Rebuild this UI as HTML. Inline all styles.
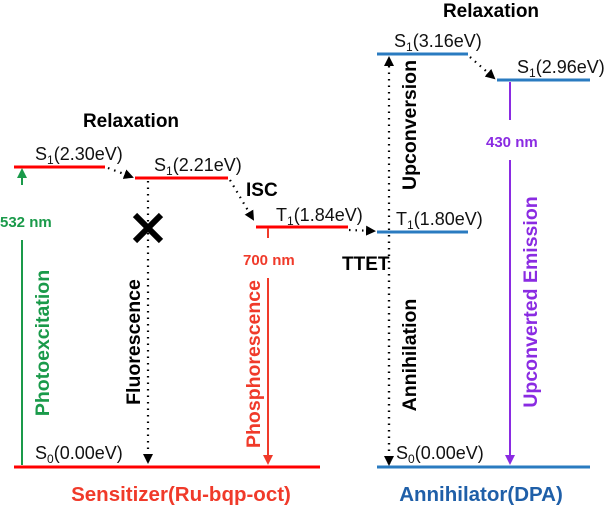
<!DOCTYPE html>
<html><head><style>
html,body{margin:0;padding:0;background:#fff;}
svg{display:block;font-family:"Liberation Sans",Arial,sans-serif;}
.b{font-weight:bold;}
</style></head><body>
<svg width="608" height="508" viewBox="0 0 608 508" xmlns="http://www.w3.org/2000/svg">
<defs>
<marker id="ak" markerWidth="10" markerHeight="10" refX="8" refY="5" orient="auto" markerUnits="userSpaceOnUse"><path d="M0,0 L10,5 L0,10 z" fill="#000"/></marker>
<marker id="ag" markerWidth="10" markerHeight="10" refX="8" refY="5" orient="auto" markerUnits="userSpaceOnUse"><path d="M0,0 L10,5 L0,10 z" fill="#1a9a4a"/></marker>
<marker id="ar" markerWidth="10" markerHeight="10" refX="8" refY="5" orient="auto" markerUnits="userSpaceOnUse"><path d="M0,0 L10,5 L0,10 z" fill="#f03a2a"/></marker>
<marker id="ap" markerWidth="10" markerHeight="10" refX="8" refY="5" orient="auto" markerUnits="userSpaceOnUse"><path d="M0,0 L10,5 L0,10 z" fill="#8a2be2"/></marker>
</defs>
<g stroke-width="3">
<line x1="14" y1="167" x2="105" y2="167" stroke="#f00"/>
<line x1="135" y1="178" x2="228" y2="178" stroke="#f00"/>
<line x1="256" y1="227" x2="348" y2="227" stroke="#f00"/>
<line x1="14" y1="467" x2="320" y2="467" stroke="#f00"/>
<line x1="377" y1="54" x2="468" y2="54" stroke="#2a7bc0"/>
<line x1="497" y1="80" x2="590" y2="80" stroke="#2a7bc0"/>
<line x1="377" y1="232" x2="468" y2="232" stroke="#2a7bc0"/>
<line x1="377" y1="467" x2="590" y2="467" stroke="#2a7bc0"/>
</g>
<line x1="22" y1="465" x2="22" y2="240" stroke="#1a9a4a" stroke-width="2"/>
<line x1="22" y1="185" x2="22" y2="170" stroke="#1a9a4a" stroke-width="2" marker-end="url(#ag)"/>
<text x="0" y="227" fill="#1a9a4a" font-size="15" class="b">532 nm</text>
<text transform="translate(49,343) rotate(-90)" text-anchor="middle" fill="#1a9a4a" font-size="19.5" class="b">Photoexcitation</text>
<g stroke="#000" stroke-width="2.2" stroke-dasharray="1.5,5" fill="none">
<line x1="108" y1="168" x2="132" y2="177" marker-end="url(#ak)"/>
<line x1="148" y1="181" x2="148" y2="462" marker-end="url(#ak)"/>
<line x1="230" y1="180" x2="253" y2="219" marker-end="url(#ak)"/>
<line x1="349" y1="230" x2="374" y2="231" marker-end="url(#ak)"/>
<line x1="389" y1="464" x2="389" y2="58" marker-end="url(#ak)"/>
<line x1="389" y1="235" x2="389" y2="464" marker-end="url(#ak)"/>
<line x1="470" y1="57" x2="494" y2="78" marker-end="url(#ak)"/>
</g>
<g stroke="#000" stroke-width="6"><line x1="135" y1="215" x2="161" y2="241"/><line x1="161" y1="215" x2="135" y2="241"/></g>
<text transform="translate(140,342) rotate(-90)" text-anchor="middle" fill="#000" font-size="19.5" class="b">Fluorescence</text>
<line x1="268" y1="228" x2="268" y2="238" stroke="#f03a2a" stroke-width="2"/>
<line x1="268" y1="278" x2="268" y2="463" stroke="#f03a2a" stroke-width="2" marker-end="url(#ar)"/>
<text x="243" y="265" fill="#f03a2a" font-size="15" class="b">700 nm</text>
<text transform="translate(260,364) rotate(-90)" text-anchor="middle" fill="#f03a2a" font-size="19.5" class="b">Phosphorescence</text>
<line x1="510" y1="82" x2="510" y2="120" stroke="#8a2be2" stroke-width="2"/>
<line x1="510" y1="160" x2="510" y2="463" stroke="#8a2be2" stroke-width="2" marker-end="url(#ap)"/>
<text x="486" y="147" fill="#8a2be2" font-size="15" class="b">430 nm</text>
<text transform="translate(537,302) rotate(-90)" text-anchor="middle" fill="#8a2be2" font-size="19.5" class="b">Upconverted Emission</text>
<text transform="translate(416,125) rotate(-90)" text-anchor="middle" fill="#000" font-size="19.5" class="b">Upconversion</text>
<text transform="translate(416,355) rotate(-90)" text-anchor="middle" fill="#000" font-size="19.5" class="b">Annihilation</text>
<g font-size="19" class="b" fill="#000">
<text x="131" y="127" text-anchor="middle">Relaxation</text>
<text x="491" y="17" text-anchor="middle">Relaxation</text>
<text x="246" y="196">ISC</text>
<text x="342" y="270">TTET</text>
</g>
<g font-size="18" fill="#111">
<text x="35" y="160">S<tspan font-size="12" dy="4">1</tspan><tspan dy="-4">(2.30eV)</tspan></text>
<text x="154" y="171">S<tspan font-size="12" dy="4">1</tspan><tspan dy="-4">(2.21eV)</tspan></text>
<text x="276" y="221">T<tspan font-size="12" dy="4">1</tspan><tspan dy="-4">(1.84eV)</tspan></text>
<text x="396" y="225">T<tspan font-size="12" dy="4">1</tspan><tspan dy="-4">(1.80eV)</tspan></text>
<text x="394" y="47">S<tspan font-size="12" dy="4">1</tspan><tspan dy="-4">(3.16eV)</tspan></text>
<text x="517" y="73">S<tspan font-size="12" dy="4">1</tspan><tspan dy="-4">(2.96eV)</tspan></text>
<text x="35" y="459">S<tspan font-size="12" dy="4">0</tspan><tspan dy="-4">(0.00eV)</tspan></text>
<text x="396" y="459">S<tspan font-size="12" dy="4">0</tspan><tspan dy="-4">(0.00eV)</tspan></text>
</g>
<text x="181" y="501" text-anchor="middle" fill="#f03a2a" font-size="20.5" class="b">Sensitizer(Ru-bqp-oct)</text>
<text x="481" y="501" text-anchor="middle" fill="#1f5fa8" font-size="20.5" class="b">Annihilator(DPA)</text>
</svg>
</body></html>
